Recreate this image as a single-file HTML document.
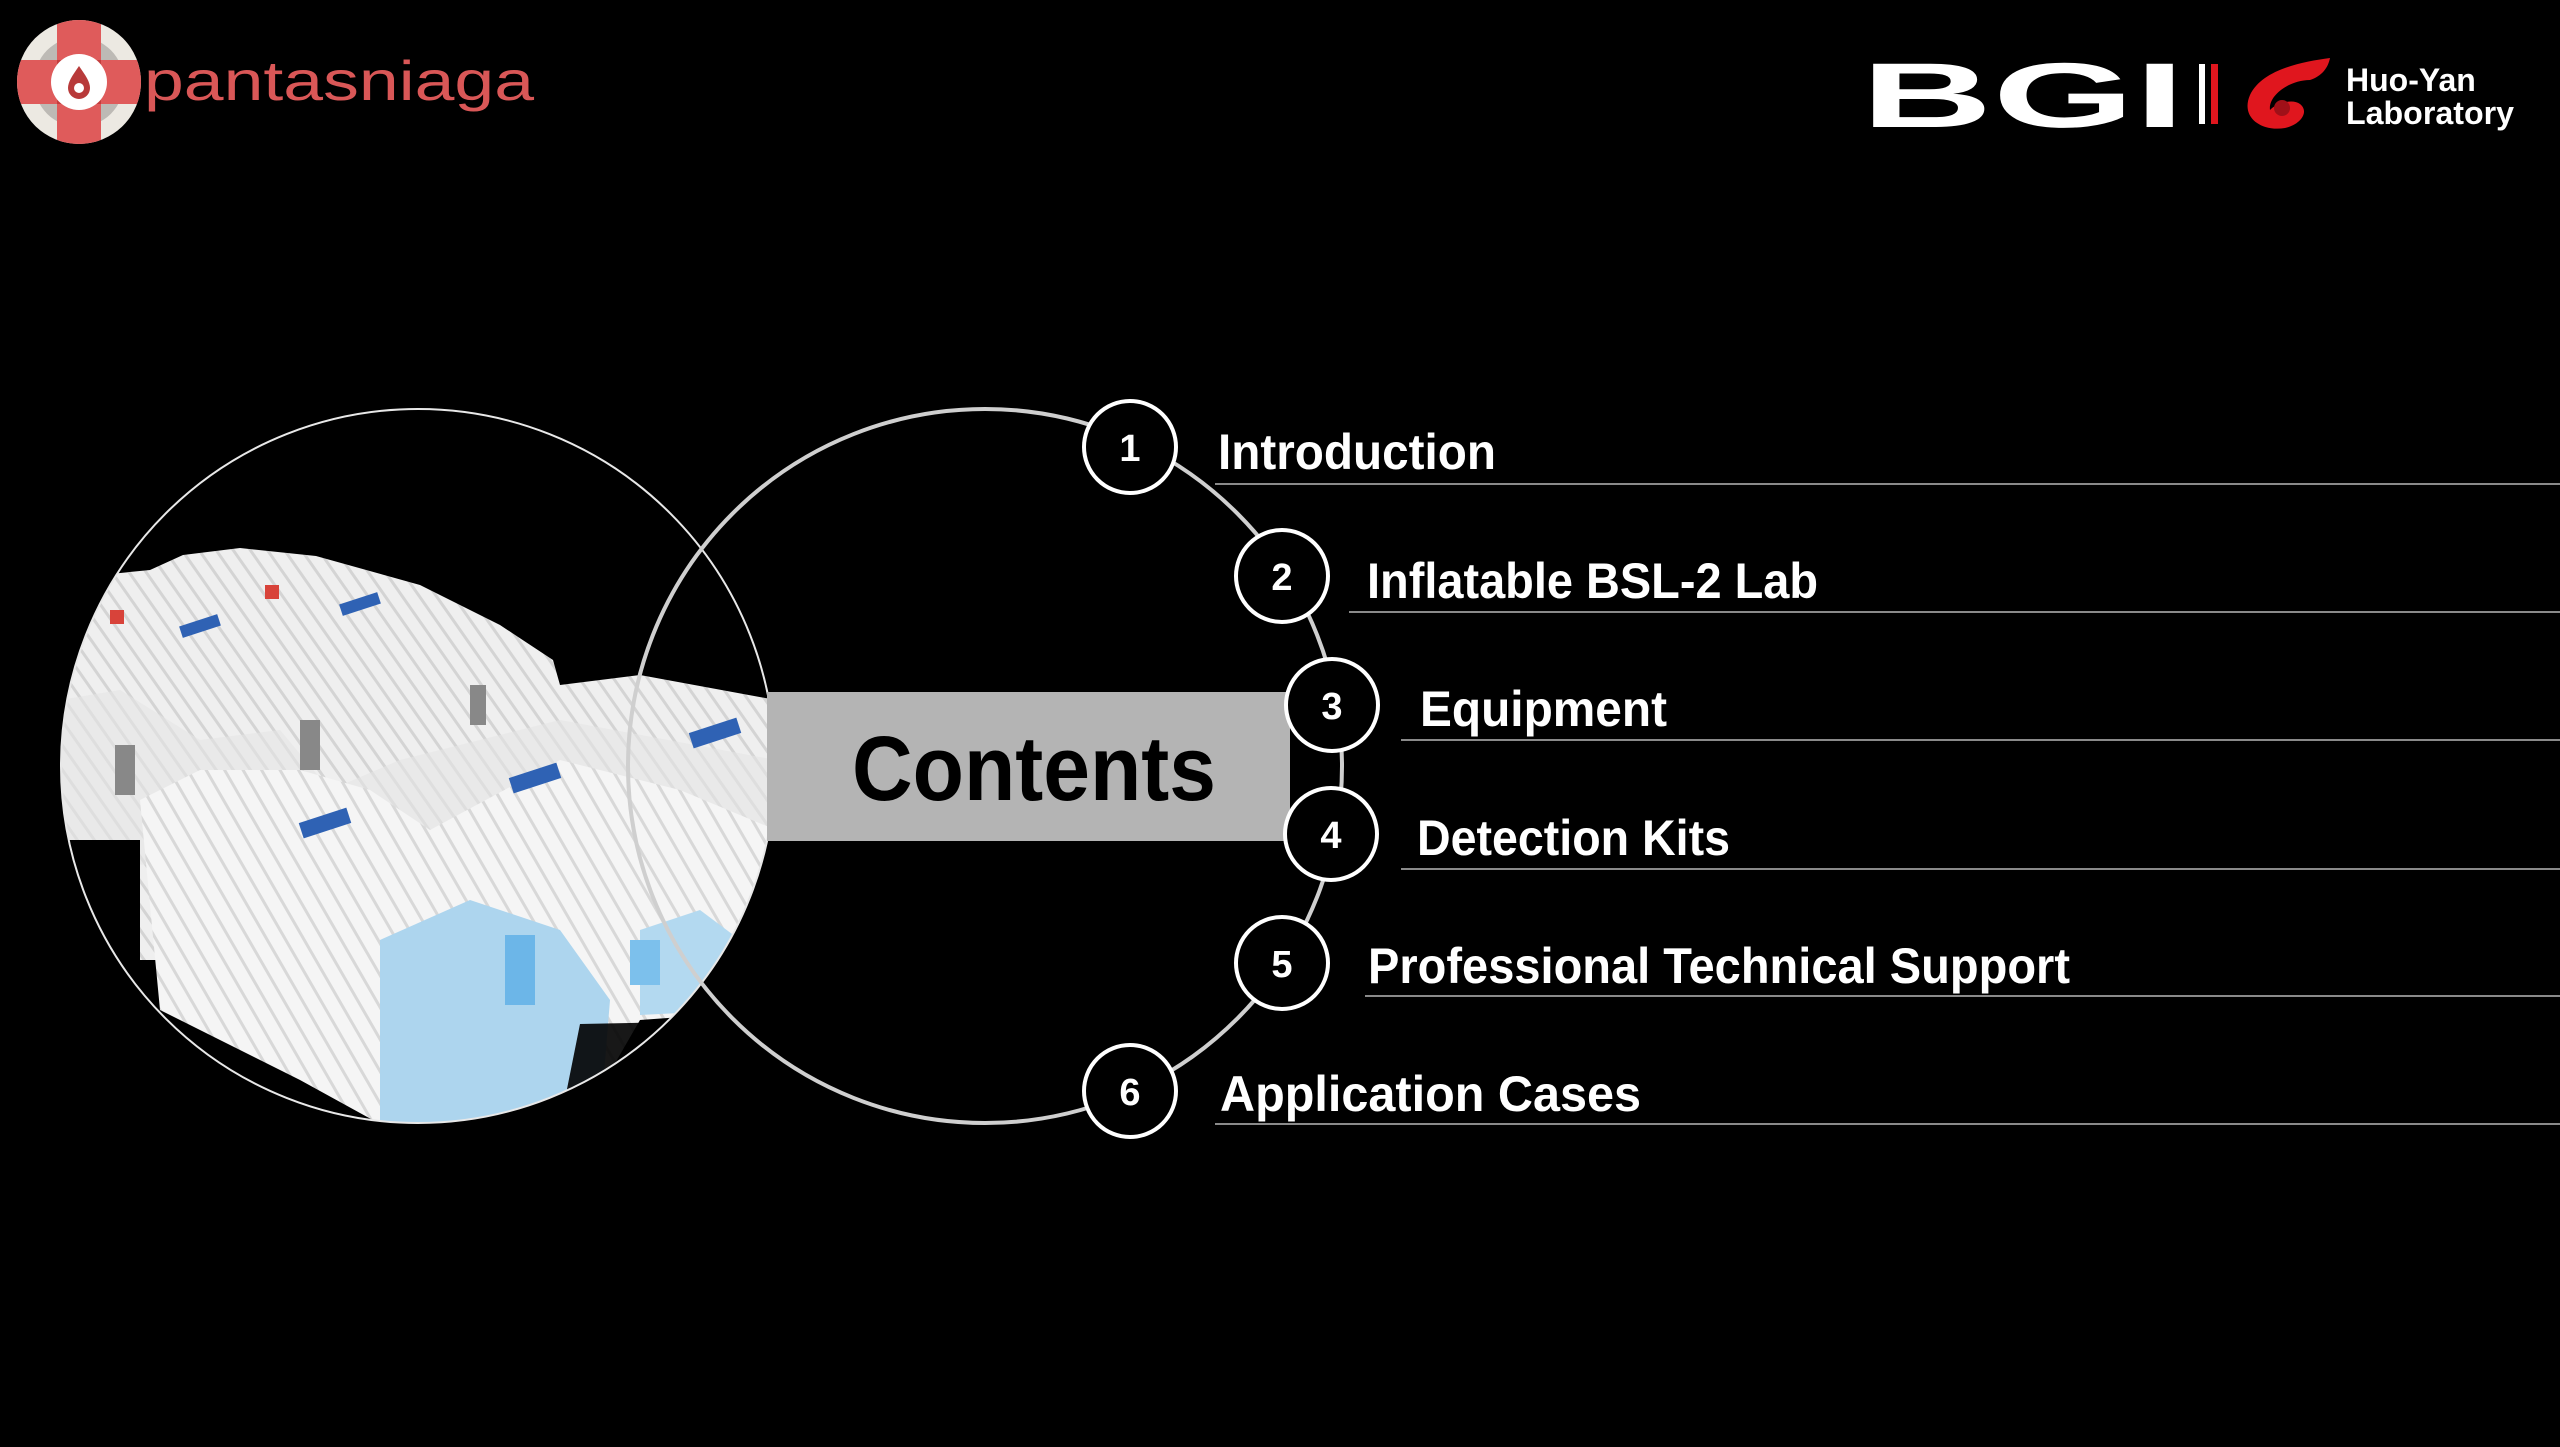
<!DOCTYPE html>
<html><head><meta charset="utf-8"><style>
html,body{margin:0;padding:0;background:#000;}
svg{display:block;}
</style></head><body>
<svg width="2560" height="1447" viewBox="0 0 2560 1447" xmlns="http://www.w3.org/2000/svg" font-family="Liberation Sans, sans-serif">
<defs>
<pattern id="ribs" width="14" height="14" patternUnits="userSpaceOnUse" patternTransform="rotate(-35)">
<rect width="14" height="14" fill="#efefef"/>
<rect width="3" height="14" fill="#d4d4d4"/>
</pattern>
<pattern id="ribs2" width="16" height="16" patternUnits="userSpaceOnUse" patternTransform="rotate(-30)">
<rect width="16" height="16" fill="#f5f5f5"/>
<rect width="3" height="16" fill="#d8d8d8"/>
</pattern>
</defs>
<rect width="2560" height="1447" fill="#000"/>
<!-- pantasniaga logo -->
<g>
<circle cx="79" cy="82" r="62" fill="#ece9e2"/>
<circle cx="79" cy="82" r="45" fill="#bdbab5"/>
<clipPath id="lc"><circle cx="79" cy="82" r="62"/></clipPath>
<g clip-path="url(#lc)">
<rect x="57" y="15" width="44" height="134" fill="#df5b5b"/>
<rect x="12" y="60" width="134" height="44" fill="#df5b5b"/>
<rect x="57" y="60" width="44" height="44" fill="#c43d3d"/>
</g>
<circle cx="79" cy="82" r="28" fill="#fff"/>
<path d="M79 66 C72 76 68 82 68 88 a11 11 0 0 0 22 0 C90 82 86 76 79 66 Z" fill="#b83a3a"/>
<circle cx="79" cy="88" r="5" fill="#fff"/>
<text x="144" y="100" font-size="56" fill="#d95757" textLength="390" lengthAdjust="spacingAndGlyphs">pantasniaga</text>
</g>
<!-- BGI logo -->
<g>
<text x="1861" y="127" font-size="92" font-weight="bold" fill="#fff" textLength="324" lengthAdjust="spacingAndGlyphs">BGI</text>
<rect x="2199" y="64" width="6" height="60" fill="#fff"/>
<rect x="2211" y="64" width="7" height="60" fill="#e0161e"/>
<path d="M2330 58 C2300 62 2262 70 2250 95 C2240 118 2262 132 2285 128 C2300 125 2310 112 2300 104 C2292 98 2275 104 2270 110 C2268 95 2290 80 2310 80 C2322 76 2328 68 2330 58 Z" fill="#e0161e"/>
<circle cx="2282" cy="108" r="8" fill="#a01018"/>
<text x="2346" y="91" font-size="32" font-weight="bold" fill="#fff">Huo-Yan</text>
<text x="2346" y="124" font-size="32" font-weight="bold" fill="#fff" textLength="168" lengthAdjust="spacingAndGlyphs">Laboratory</text>
</g>
<!-- photo circle -->
<clipPath id="pc"><circle cx="418" cy="766" r="357"/></clipPath>
<g clip-path="url(#pc)">
<rect x="60" y="408" width="716" height="716" fill="#000"/>
<polygon points="60,650 100,575 150,570 183,555 240,548 316,556 420,585 500,625 553,660 560,685 640,675 776,700 776,960 60,960" fill="url(#ribs)"/>
<polygon points="60,700 120,690 200,740 280,730 330,790 400,760 560,720 776,760 776,900 60,860" fill="#e4e4e4" opacity="0.6"/>
<polygon points="60,840 140,840 140,1124 60,1124" fill="#000"/>
<polygon points="140,800 200,770 300,770 370,790 430,830 560,760 680,790 776,830 776,1010 640,1020 580,1124 380,1124 300,1080 160,1010" fill="url(#ribs2)"/>
<polygon points="380,940 470,900 560,930 610,1000 600,1124 380,1124" fill="#add5ee"/>
<polygon points="640,930 700,910 740,940 740,1010 640,1015" fill="#b3d9f0"/>
<rect x="505" y="935" width="30" height="70" fill="#6cb6e8"/>
<rect x="630" y="940" width="30" height="45" fill="#7cc0ec"/>
<polygon points="580,1024 776,1020 776,1124 560,1124" fill="#000" opacity="0.9"/>
<g fill="#2f62b4">
<rect x="300" y="815" width="50" height="16" transform="rotate(-18 325 823)"/>
<rect x="510" y="770" width="50" height="16" transform="rotate(-18 535 778)"/>
<rect x="690" y="725" width="50" height="16" transform="rotate(-18 715 733)"/>
<rect x="180" y="620" width="40" height="12" transform="rotate(-18 200 626)"/>
<rect x="340" y="598" width="40" height="12" transform="rotate(-18 360 604)"/>
</g>
<g fill="#d8433a">
<rect x="110" y="610" width="14" height="14"/>
<rect x="265" y="585" width="14" height="14"/>
</g>
<g fill="#888">
<rect x="115" y="745" width="20" height="50"/>
<rect x="300" y="720" width="20" height="50"/>
<rect x="470" y="685" width="16" height="40"/>
</g>
</g>
<circle cx="418" cy="766" r="357" fill="none" stroke="#e8e8e8" stroke-width="2"/>
<!-- big circle -->
<circle cx="985" cy="766" r="357" fill="none" stroke="#cfcfcf" stroke-width="4"/>
<!-- gray band -->
<rect x="767" y="692" width="523" height="149" fill="#b4b4b4"/>
<text x="852" y="800" font-size="92" font-weight="bold" fill="#000" textLength="364" lengthAdjust="spacingAndGlyphs">Contents</text>
<!-- underlines -->
<g stroke="#8a8a8a" stroke-width="2">
<line x1="1215" y1="484" x2="2560" y2="484"/>
<line x1="1349" y1="612" x2="2560" y2="612"/>
<line x1="1401" y1="740" x2="2560" y2="740"/>
<line x1="1401" y1="869" x2="2560" y2="869"/>
<line x1="1365" y1="996" x2="2560" y2="996"/>
<line x1="1215" y1="1124" x2="2560" y2="1124"/>
</g>
<!-- number circles -->
<g fill="#000" stroke="#fff" stroke-width="4">
<circle cx="1130" cy="447" r="46"/>
<circle cx="1282" cy="576" r="46"/>
<circle cx="1332" cy="705" r="46"/>
<circle cx="1331" cy="834" r="46"/>
<circle cx="1282" cy="963" r="46"/>
<circle cx="1130" cy="1091" r="46"/>
</g>
<g fill="#fff" font-size="38" font-weight="bold" text-anchor="middle">
<text x="1130" y="461">1</text>
<text x="1282" y="590">2</text>
<text x="1332" y="719">3</text>
<text x="1331" y="848">4</text>
<text x="1282" y="977">5</text>
<text x="1130" y="1105">6</text>
</g>
<g fill="#fff" font-size="50" font-weight="bold">
<text x="1218" y="469" textLength="278" lengthAdjust="spacingAndGlyphs">Introduction</text>
<text x="1367" y="598" textLength="451" lengthAdjust="spacingAndGlyphs">Inflatable BSL-2 Lab</text>
<text x="1420" y="726" textLength="247" lengthAdjust="spacingAndGlyphs">Equipment</text>
<text x="1417" y="855" textLength="313" lengthAdjust="spacingAndGlyphs">Detection Kits</text>
<text x="1368" y="983" textLength="702" lengthAdjust="spacingAndGlyphs">Professional Technical Support</text>
<text x="1220" y="1111" textLength="421" lengthAdjust="spacingAndGlyphs">Application Cases</text>
</g>
</svg>
</body></html>
